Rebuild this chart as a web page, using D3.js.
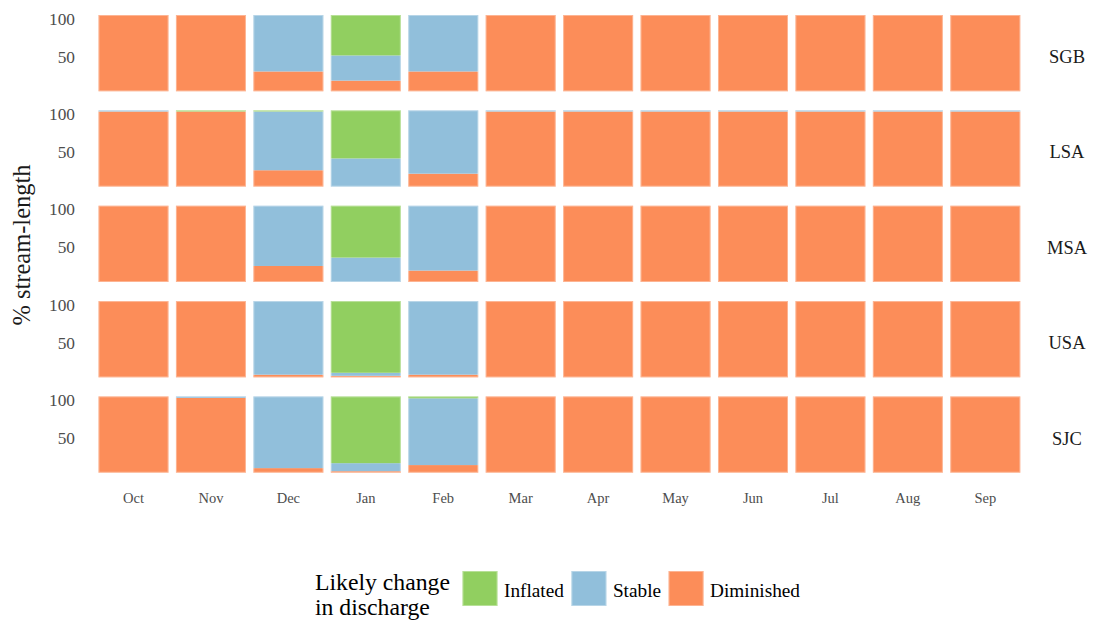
<!DOCTYPE html>
<html><head><meta charset="utf-8">
<script src="https://cdn.jsdelivr.net/npm/d3@7"></script>
<style>body{margin:0;background:#fff;} svg{display:block;}</style>
</head><body>
<svg id="chart" width="1095" height="620"></svg>
<script>
const months = ["Oct","Nov","Dec","Jan","Feb","Mar","Apr","May","Jun","Jul","Aug","Sep"];
const regions = ["SGB","LSA","MSA","USA","SJC"];
const categories = ["Diminished","Stable","Inflated"];
const legendLabels = ["Inflated","Stable","Diminished"];
const yTicks = [50, 100];

// % stream-length per region (rows) and month (columns)
const diminished = [
  [100,100,26,14,26,100,100,100,100,100,100,100],
  [98.5,98.5,21.5,0,17,98.5,98.5,98.5,98.5,98.5,98.5,98.5],
  [100,100,21,0,15,100,100,100,100,100,100,100],
  [100,100,3.5,2,3.5,100,100,100,100,100,100,100],
  [100,98,6,2,10,100,100,100,100,100,100,100]
];
const stable = [
  [0,0,74,33,74,0,0,0,0,0,0,0],
  [1.5,0,77,37,83,1.5,1.5,1.5,1.5,1.5,1.5,1.5],
  [0,0,79,32,85,0,0,0,0,0,0,0],
  [0,0,96.5,4,96.5,0,0,0,0,0,0,0],
  [0,2,94,10.5,87.5,0,0,0,0,0,0,0]
];
const inflated = [
  [0,0,0,53,0,0,0,0,0,0,0,0],
  [0,1.5,1.5,63,0,0,0,0,0,0,0,0],
  [0,0,0,68,0,0,0,0,0,0,0,0],
  [0,0,0,94,0,0,0,0,0,0,0,0],
  [0,0,0,87.5,2.5,0,0,0,0,0,0,0]
];

const color = d3.scaleOrdinal()
  .domain(["Inflated","Stable","Diminished"])
  .range(["#91cf60","#91bfdb","#fc8d59"]);

const svg = d3.select("#chart");
const x = d3.scaleBand().domain(months).range([98.5, 1020.3]).paddingInner(0.096).paddingOuter(0);
const row = d3.scaleBand().domain(regions).range([15, 472.7]).paddingInner(0.2).paddingOuter(0);

const serif = "Liberation Serif, Times New Roman, Tinos, Times, DejaVu Serif, Noto Serif, serif";

// pick a font size so that a sample string reaches the width seen in the reference
function fitSize(sample, base, target) {
  const t = svg.append("text").attr("font-family", serif).attr("font-size", base).text(sample);
  const w = t.node().getComputedTextLength();
  t.remove();
  return w > 0 ? base * target / w : base;
}
const tickSize = fitSize("100", 17, 26);
const stripSize = fitSize("SGB", 19, 36);
const monthSize = fitSize("Oct", 15, 21);
const titleSize = fitSize("% stream-length", 24, 161);
const legTitleSize = fitSize("Likely change", 23, 135);
const legLabSize = fitSize("Diminished", 19, 90);

regions.forEach((reg, ri) => {
  const table = months.map((m, mi) => ({
    month: m,
    Diminished: diminished[ri][mi],
    Stable: stable[ri][mi],
    Inflated: inflated[ri][mi]
  }));
  const series = d3.stack().keys(categories)(table);
  const top = row(reg), h = row.bandwidth();
  const y = d3.scaleLinear().domain([0, 100]).range([top + h, top]);
  const g = svg.append("g");
  series.forEach(s => {
    g.selectAll(null).data(s.filter(d => d[1] - d[0] > 0)).join("rect")
      .attr("x", d => x(d.data.month))
      .attr("width", x.bandwidth())
      .attr("y", d => y(d[1]))
      .attr("height", d => y(d[0]) - y(d[1]))
      .attr("fill", color(s.key));
  });
  g.selectAll(null).data(months).join("rect")
    .attr("x", d => x(d) + 0.5).attr("width", x.bandwidth() - 1)
    .attr("y", top + 0.5).attr("height", h - 1)
    .attr("fill", "none").attr("stroke", "#fff").attr("stroke-opacity", 0.35);
  g.selectAll(null).data(yTicks).join("text")
    .attr("x", 75).attr("y", d => y(d) + 9.5)
    .attr("text-anchor", "end")
    .attr("font-family", serif).attr("font-size", tickSize).attr("fill", "#4d4d4d")
    .text(d => d);
  svg.append("text")
    .attr("x", 1067).attr("y", top + h / 2 + 10)
    .attr("text-anchor", "middle")
    .attr("font-family", serif).attr("font-size", stripSize).attr("fill", "#1a1a1a")
    .text(reg);
});

svg.append("g").selectAll("text").data(months).join("text")
  .attr("x", d => x(d) + x.bandwidth() / 2)
  .attr("y", 503)
  .attr("text-anchor", "middle")
  .attr("font-family", serif).attr("font-size", monthSize).attr("fill", "#4d4d4d")
  .text(d => d);

svg.append("text")
  .attr("transform", "translate(30,245) rotate(-90)")
  .attr("text-anchor", "middle")
  .attr("font-family", serif).attr("font-size", titleSize).attr("fill", "#1a1a1a")
  .text("% stream-length");

const lg = svg.append("g");
lg.append("text").attr("x", 315).attr("y", 590)
  .attr("font-family", serif).attr("font-size", legTitleSize).attr("fill", "#000")
  .text("Likely change");
lg.append("text").attr("x", 315).attr("y", 615)
  .attr("font-family", serif).attr("font-size", legTitleSize).attr("fill", "#000")
  .text("in discharge");
let lx = 462.5;
legendLabels.forEach(lab => {
  lg.append("rect").attr("x", lx).attr("y", 571).attr("width", 35).attr("height", 35)
    .attr("fill", color(lab));
  lg.append("rect").attr("x", lx + 0.5).attr("y", 571.5).attr("width", 34).attr("height", 34)
    .attr("fill", "none").attr("stroke", "#fff").attr("stroke-opacity", 0.35);
  const t = lg.append("text").attr("x", lx + 41.5).attr("y", 597)
    .attr("font-family", serif).attr("font-size", legLabSize).attr("fill", "#000")
    .text(lab);
  lx = lx + 41.5 + t.node().getComputedTextLength() + 7.5;
});
</script>
</body></html>
